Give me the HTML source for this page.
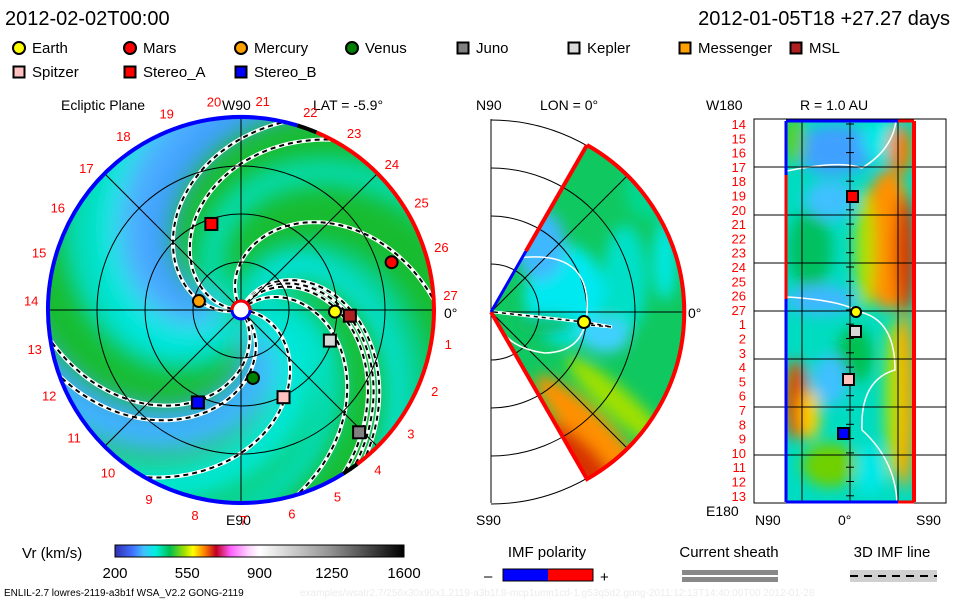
<!DOCTYPE html>
<html><head><meta charset="utf-8"><style>
html,body{margin:0;padding:0;background:#fff}
svg{display:block}
text{font-family:"Liberation Sans",sans-serif}
</style></head><body>
<svg id="s" width="960" height="600" viewBox="0 0 960 600">
<defs>
<filter id="bl" x="-50%" y="-50%" width="200%" height="200%"><feGaussianBlur stdDeviation="12"/></filter>
<filter id="bl2" x="-50%" y="-50%" width="200%" height="200%"><feGaussianBlur stdDeviation="7"/></filter>
<clipPath id="cc"><circle cx="241" cy="310" r="193"/></clipPath>
<clipPath id="wc"><path d="M491,312 L587,145 A192,192 0 0 1 587,479 Z"/></clipPath>
<clipPath id="rc"><rect x="785" y="121" width="130" height="381"/></clipPath>
<linearGradient id="cb" x1="0" x2="1">
<stop offset="0" stop-color="#3030b0"/><stop offset="0.06" stop-color="#4070ff"/><stop offset="0.1" stop-color="#40c0ff"/><stop offset="0.14" stop-color="#00f0e0"/><stop offset="0.19" stop-color="#00c050"/><stop offset="0.24" stop-color="#a0e000"/><stop offset="0.27" stop-color="#ffff00"/><stop offset="0.31" stop-color="#ff8000"/><stop offset="0.35" stop-color="#c00020"/><stop offset="0.4" stop-color="#ff60ff"/><stop offset="0.46" stop-color="#ffd0ff"/><stop offset="0.5" stop-color="#ffffff"/><stop offset="0.75" stop-color="#909090"/><stop offset="1" stop-color="#000"/>
</linearGradient>
</defs>
<text x="5" y="25" font-size="20">2012-02-02T00:00</text>
<text x="950" y="25" font-size="20" text-anchor="end">2012-01-05T18 +27.27 days</text>
<g id="legend"></g>

<!-- left panel -->
<g>
<text x="61" y="110" font-size="14">Ecliptic Plane</text>
<text x="222" y="110" font-size="14">W90</text>
<text x="313" y="110" font-size="14">LAT = -5.9°</text>
<text x="226" y="525" font-size="14">E90</text>
<text x="444" y="318" font-size="14">0°</text>
<g clip-path="url(#cc)">
<rect x="40" y="110" width="402" height="402" fill="#18bc30"/>
<g id="bands" filter="url(#bl)"></g>
<g id="spir"></g>
<g stroke="#000" stroke-width="1" fill="none">
<circle cx="241" cy="310" r="48"/><circle cx="241" cy="310" r="96"/><circle cx="241" cy="310" r="144"/>
<line x1="40" y1="310" x2="442" y2="310"/><line x1="241" y1="110" x2="241" y2="512"/>
<line x1="100" y1="169" x2="382" y2="451"/><line x1="100" y1="451" x2="382" y2="169"/>
</g>
</g>
<g id="rim"></g>
<circle cx="241" cy="310" r="9" fill="#fff" stroke="#00f" stroke-width="3"/>
<path d="M232,310 A9,9 0 0 1 250,310" fill="none" stroke="#f00" stroke-width="3"/>
<g id="nums"></g>
<g id="bodies"></g>
</g>

<!-- middle -->
<g>
<text x="476" y="110" font-size="14">N90</text>
<text x="540" y="110" font-size="14">LON = 0°</text>
<text x="476" y="525" font-size="14">S90</text>
<text x="688" y="318" font-size="14">0°</text>
<g clip-path="url(#wc)">
<rect x="488" y="140" width="200" height="345" fill="#10c860"/>
<g filter="url(#bl2)">
<ellipse cx="625" cy="280" rx="22" ry="55" fill="#00e0c8"/>
<ellipse cx="665" cy="260" rx="12" ry="40" fill="#00e8e0"/>
<ellipse cx="565" cy="295" rx="40" ry="50" fill="#00e8f0"/>
<ellipse cx="540" cy="245" rx="25" ry="35" fill="#40b8ff"/>
<ellipse cx="605" cy="335" rx="25" ry="18" fill="#40d0ff"/>
<ellipse cx="545" cy="325" rx="30" ry="10" fill="#10c060"/>
<ellipse cx="650" cy="190" rx="25" ry="30" fill="#00d890"/>
<ellipse cx="620" cy="405" rx="70" ry="14" fill="#a0e000" transform="rotate(42 620 405)"/>
<ellipse cx="590" cy="430" rx="75" ry="18" fill="#ff9000" transform="rotate(45 590 430)"/>
<ellipse cx="580" cy="462" rx="55" ry="18" fill="#d83000" transform="rotate(45 580 462)"/>
</g>
</g>
<g stroke="#000" fill="none">
<path d="M491,264 A48,48 0 0 1 491,360"/><path d="M491,216 A96,96 0 0 1 491,408"/><path d="M491,168 A144,144 0 0 1 491,456"/><path d="M491,120 A192,192 0 0 1 491,504"/>
<line x1="491" y1="119" x2="491" y2="503"/><line x1="491" y1="312" x2="683" y2="312"/>
<line x1="491" y1="312" x2="627" y2="176"/><line x1="491" y1="312" x2="627" y2="448"/>
</g>
<path d="M518,258 Q584,250 587,300 Q590,352 545,353 Q505,348 495,318" stroke="#fff" stroke-width="1.5" fill="none"/>
<path d="M587,145 A192,192 0 0 1 587,479 L491,312" fill="none" stroke="#f00" stroke-width="4"/>
<path d="M491,312 L526,251" stroke="#00f" stroke-width="3"/>
<path d="M526,251 L587,145" stroke="#f00" stroke-width="4"/>
<path d="M494,312 L584,322 L612,327 L590,325" stroke="#fff" stroke-width="3" fill="none"/>
<path d="M494,312 L584,322 L612,327 L590,325" stroke="#000" stroke-width="1.5" fill="none" stroke-dasharray="4,4"/>
<circle cx="584" cy="322" r="6" fill="#ff0" stroke="#000" stroke-width="2"/>
</g>

<!-- right -->
<g>
<text x="800" y="110" font-size="14">R = 1.0 AU</text>
<text x="706" y="110" font-size="14">W180</text>
<text x="706" y="516" font-size="14">E180</text>
<text x="755" y="525" font-size="14">N90</text>
<text x="838" y="525" font-size="14">0°</text>
<text x="916" y="525" font-size="14">S90</text>
<rect x="754" y="119" width="192" height="384" fill="#fff" stroke="#000"/>
<g clip-path="url(#rc)">
<rect x="785" y="121" width="130" height="381" fill="#00dcc0"/>
<g filter="url(#bl2)">
<ellipse cx="835" cy="150" rx="40" ry="25" fill="#40a0ff"/>
<ellipse cx="880" cy="140" rx="18" ry="20" fill="#00e8e8"/>
<ellipse cx="795" cy="140" rx="10" ry="25" fill="#60d000"/>
<ellipse cx="900" cy="150" rx="12" ry="25" fill="#f08000"/>
<ellipse cx="888" cy="240" rx="25" ry="70" fill="#ff9000"/>
<ellipse cx="905" cy="255" rx="10" ry="60" fill="#d83000"/>
<ellipse cx="865" cy="250" rx="10" ry="60" fill="#b0e000"/>
<ellipse cx="810" cy="250" rx="22" ry="40" fill="#00c060"/>
<ellipse cx="830" cy="200" rx="25" ry="20" fill="#40c0ff"/>
<ellipse cx="820" cy="300" rx="35" ry="15" fill="#40b8ff"/>
<ellipse cx="855" cy="355" rx="18" ry="28" fill="#00c050"/>
<ellipse cx="830" cy="380" rx="18" ry="25" fill="#40c0ff"/>
<ellipse cx="905" cy="400" rx="10" ry="90" fill="#ffa000"/>
<ellipse cx="893" cy="400" rx="8" ry="80" fill="#b0e000"/>
<ellipse cx="796" cy="400" rx="12" ry="40" fill="#e05000"/>
<ellipse cx="810" cy="415" rx="10" ry="25" fill="#ffd000"/>
<ellipse cx="830" cy="465" rx="28" ry="22" fill="#70d000"/>
<ellipse cx="870" cy="470" rx="15" ry="25" fill="#00e8e8"/>
</g>
</g>
<path d="M787,171 Q840,160 862,168 Q892,150 896,121" stroke="#fff" stroke-width="1.5" fill="none"/>
<path d="M787,297 Q840,300 860,312 Q895,320 895,370 Q860,380 862,430 Q895,460 897,502" stroke="#fff" stroke-width="1.5" fill="none"/>
<g stroke="#000">
<line x1="754" y1="167" x2="946" y2="167"/><line x1="754" y1="215" x2="946" y2="215"/><line x1="754" y1="263" x2="946" y2="263"/><line x1="754" y1="311" x2="946" y2="311"/><line x1="754" y1="359" x2="946" y2="359"/><line x1="754" y1="407" x2="946" y2="407"/><line x1="754" y1="455" x2="946" y2="455"/>
<line x1="802" y1="121" x2="802" y2="502"/><line x1="850" y1="121" x2="850" y2="502"/><line x1="898" y1="121" x2="898" y2="502"/>
</g>
<line x1="786" y1="121" x2="786" y2="175" stroke="#00f" stroke-width="3"/>
<line x1="786" y1="175" x2="786" y2="299" stroke="#f00" stroke-width="3"/>
<line x1="786" y1="299" x2="786" y2="502" stroke="#00f" stroke-width="3"/>
<line x1="914" y1="121" x2="914" y2="502" stroke="#f00" stroke-width="4"/>
<line x1="786" y1="121" x2="898" y2="121" stroke="#00f" stroke-width="3"/>
<line x1="786" y1="502" x2="898" y2="502" stroke="#00f" stroke-width="3"/>
<line x1="898" y1="121" x2="914" y2="121" stroke="#f00" stroke-width="3"/>
<line x1="898" y1="502" x2="914" y2="502" stroke="#f00" stroke-width="3"/>
<g id="rnums"></g>
<g id="rbodies"></g>
</g>

<!-- bottom -->
<g>
<text x="22" y="558" font-size="15">Vr (km/s)</text>
<rect x="115" y="545" width="289" height="12" fill="url(#cb)" stroke="#000"/>
<g id="cbt" font-size="15" text-anchor="middle"></g>
</g>
<g>
<text x="547" y="557" font-size="15" text-anchor="middle">IMF polarity</text>
<rect x="503" y="569" width="45" height="12" fill="#00f"/><rect x="548" y="569" width="45" height="12" fill="#f00"/>
<rect x="503" y="569" width="90" height="12" fill="none" stroke="#000"/>
<text x="484" y="581" font-size="15">–</text><text x="600" y="582" font-size="15">+</text>
</g>
<g>
<text x="729" y="557" font-size="15" text-anchor="middle">Current sheath</text>
<rect x="682" y="570" width="96" height="5" fill="#888"/><rect x="682" y="577" width="96" height="5" fill="#888"/>
</g>
<g>
<text x="892" y="557" font-size="15" text-anchor="middle">3D IMF line</text>
<rect x="850" y="570" width="87" height="12" fill="#d0d0d0"/>
<line x1="850" y1="576" x2="937" y2="576" stroke="#000" stroke-width="2" stroke-dasharray="8,6"/>
</g>
<text x="4" y="596" font-size="10">ENLIL-2.7 lowres-2119-a3b1f WSA_V2.2 GONG-2119</text>
<text x="300" y="596" font-size="10" fill="#ececec">examples/wsatr2.7/256x30x90x1.2119-a3b1f.8-mcp1umn1cd-1.g53q5d2.gong-2011:12:13T14:40:00T00     2012-01-28</text>
</svg>
<script>
const NS="http://www.w3.org/2000/svg";
function mk(t,a,p){const e=document.createElementNS(NS,t);for(const k in a)e.setAttribute(k,a[k]);p.appendChild(e);return e;}
const CX=241,CY=310,R=193;
const legendNames=["Earth","Mars","Mercury","Venus","Juno","Kepler","Messenger","MSL","Spitzer","Stereo_A","Stereo_B"];
const legendColors=["#ffff00","#ff0000","#ffa000","#008000","#808080","#d8d8d8","#ffa000","#b02020","#ffc0c0","#ff0000","#0000ff"];
const legendShapes=["c","c","c","c","s","s","s","s","s","s","s"];
const lg=document.getElementById("legend");
legendNames.forEach((n,i)=>{
  const x=19+(i%8)*111, y=i<8?48:72;
  let m;
  if(legendShapes[i]=="c") m=mk("circle",{cx:x,cy:y,r:6,fill:legendColors[i],stroke:"#000","stroke-width":2},lg);
  else m=mk("rect",{x:x-5.5,y:y-5.5,width:11,height:11,fill:legendColors[i],stroke:"#000","stroke-width":2},lg);
  
  
  const t=mk("text",{x:x+13,y:y+5,"font-size":15},lg);t.textContent=n;
  
  
});
function spiralPath(endAng,rmax){
  let d="";
  for(let i=0;i<=80;i++){const r=9+(rmax-9)*i/80;const a=(endAng+0.6*(R-r))*Math.PI/180;
    d+=(i?"L":"M")+(CX+r*Math.cos(a)).toFixed(1)+","+(CY-r*Math.sin(a)).toFixed(1);}
  return d;
}
const bandEnds=[95,112,200,215,130,245,-38,150,-85,-20,40];
const bandColors=["#40a0ff","#50b0ff","#40a8ff","#40b8ff","#00e8e0","#00e8d8","#00e8f0","#00e0d0","#00e0c8","#00d8b0","#00e0c0"];
const bandWidths=[45,30,25,25,30,40,22,20,25,15,25];
const bg0=document.getElementById("bands");
bandEnds.forEach((e,i)=>{
  mk("path",{d:spiralPath(e,260),stroke:bandColors[i],"stroke-width":bandWidths[i],fill:"none"},bg0);
});
const sp=document.getElementById("spir");
const spiralEnds=[77,62,3,-50,-54,-58,-73,-120,189,200];
spiralEnds.forEach(e=>{
  const d=spiralPath(e,R);
  mk("path",{d:d,stroke:"#fff",fill:"none","stroke-width":4},sp);
  const p=mk("path",{d:d,stroke:"#000",fill:"none","stroke-width":2,"stroke-dasharray":"5,4"},sp);
  
  
});
const rim=document.getElementById("rim");
function arc(a1,a2,col,w){const p1=[CX+R*Math.cos(a1*Math.PI/180),CY-R*Math.sin(a1*Math.PI/180)],p2=[CX+R*Math.cos(a2*Math.PI/180),CY-R*Math.sin(a2*Math.PI/180)];
  const large=Math.abs(a1-a2)>180?1:0;
  return mk("path",{d:`M${p1[0]},${p1[1]} A${R},${R} 0 ${large} 1 ${p2[0]},${p2[1]}`,stroke:col,"stroke-width":w,fill:"none"},rim);}
arc(67,-53,"#f00",4);
arc(-53,-58,"#000",4);
arc(-58,-287,"#00f",4);
arc(73,67,"#000",4);
const ng=document.getElementById("nums");
for(let k=1;k<=27;k++){
  const a=(4-k*13.33)*Math.PI/180;const r=210;
  const t=mk("text",{x:(CX+r*Math.cos(a)).toFixed(1),y:(CY+5-r*Math.sin(a)).toFixed(1),"font-size":13,"text-anchor":"middle",fill:"#f00"},ng);
  t.textContent=k;
  
  
}
const bodyNames=["Mars","Earth","MSL","Mercury","Stereo_A","Venus","Stereo_B","Spitzer","Kepler","Juno"];
const bodyR=[158,94,109,43,91,69,102,97,94,170];
const bodyAng=[17.6,-1,-3,168,109,-80,-115,-64,-19,-46];
const bodyColor=["#ff0000","#ffff00","#b02020","#ffa000","#ff0000","#008000","#0000ff","#ffc0c0","#d8d8d8","#808080"];
const bodyShape=["c","c","s","c","s","c","s","s","s","s"];
const bg=document.getElementById("bodies");
bodyNames.forEach((n,i)=>{
  const a=bodyAng[i]*Math.PI/180;const x=CX+bodyR[i]*Math.cos(a),y=CY-bodyR[i]*Math.sin(a);
  let m;
  if(bodyShape[i]=="c")m=mk("circle",{cx:x,cy:y,r:6,fill:bodyColor[i],stroke:"#000","stroke-width":2},bg);
  else m=mk("rect",{x:x-6,y:y-6,width:12,height:12,fill:bodyColor[i],stroke:"#000","stroke-width":2},bg);
  
  
});
const rLabels=[14,15,16,17,18,19,20,21,22,23,24,25,26,27,1,2,3,4,5,6,7,8,9,10,11,12,13];
const rn=document.getElementById("rnums");
rLabels.forEach((v,i)=>{
  const y=124+i*14.3;
  const t=mk("text",{x:746,y:y+5,"font-size":13,"text-anchor":"end",fill:"#f00"},rn);t.textContent=v;
  
  
  mk("line",{x1:846,y1:y,x2:854,y2:y,stroke:"#000"},rn);
});
const rbNames=["Stereo_A","Earth","Kepler","Spitzer","Stereo_B"];
const rbX=[852,856,855,848,843];
const rbY=[196,312,331,379,433];
const rbC=["#ff0000","#ffff00","#d8d8d8","#ffc0c0","#0000ff"];
const rb=document.getElementById("rbodies");
rbNames.forEach((n,i)=>{
  let m;
  if(n=="Earth")m=mk("circle",{cx:rbX[i],cy:rbY[i],r:5,fill:rbC[i],stroke:"#000","stroke-width":2},rb);
  else m=mk("rect",{x:rbX[i]-5,y:rbY[i]-5,width:11,height:11,fill:rbC[i],stroke:"#000","stroke-width":2},rb);
  
  
});
const cbTicks=[200,550,900,1250,1600];
const cg=document.getElementById("cbt");
cbTicks.forEach(v=>{
  const x=115+(v-200)/1400*289;
  const t=mk("text",{x:x,y:578},cg);t.textContent=v;
  
  
});
</script>
</body></html>
